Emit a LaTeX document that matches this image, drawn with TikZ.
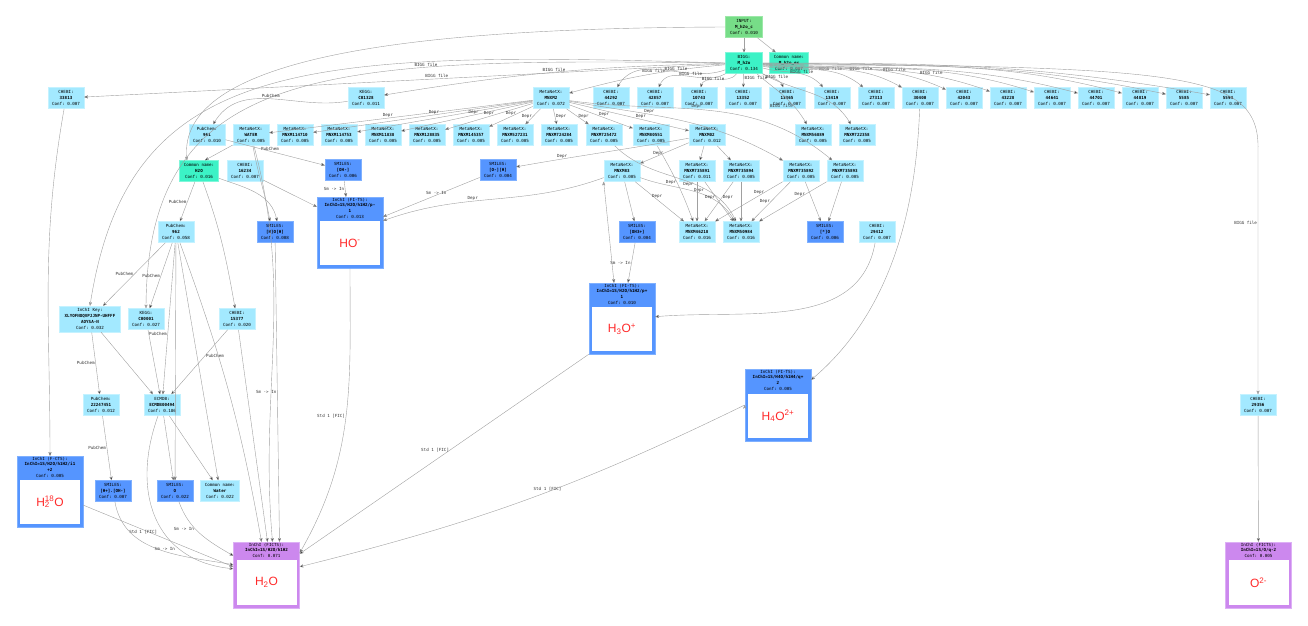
\documentclass[tikz,border=0pt]{standalone}
\usepackage{fontspec}
\setmonofont{DejaVu Sans Mono}
\setsansfont{Liberation Sans}
\usetikzlibrary{arrows,positioning,calc}
\definecolor{idblue}{HTML}{A3E9FF}
\definecolor{idline}{HTML}{C4F2FF}
\definecolor{cnteal}{HTML}{3CF2C6}
\definecolor{cnline}{HTML}{80F7DA}
\definecolor{inpgreen}{HTML}{77DD88}
\definecolor{inpline}{HTML}{9CE8A8}
\definecolor{smblue}{HTML}{5595FF}
\definecolor{smline}{HTML}{7FB0FF}
\definecolor{ficts}{HTML}{CC88EE}
\definecolor{fictsline}{HTML}{DDB0F5}
\definecolor{edgegray}{HTML}{A0A0A0}
\definecolor{molred}{HTML}{FF2A2A}

\begin{document}
\begin{tikzpicture}[x=1pt,y=1pt,
dbid/.style={rectangle,fill=idblue,draw=idline,line width=0.6pt,minimum width=36pt,minimum height=21pt,inner sep=0.5pt,align=center,font=\fontsize{4.2}{5.8}\selectfont\ttfamily},
cn/.style={dbid,fill=cnteal,draw=cnline,minimum width=39pt},
sm/.style={dbid,fill=smblue,draw=smline},
inp/.style={dbid,fill=inpgreen,draw=inpline,minimum width=37pt},
inchi/.style={rectangle,fill=smblue,draw=smline,line width=0.6pt,minimum width=66pt,minimum height=71pt,inner sep=0pt},
hdr/.style={anchor=north,align=center,inner sep=1pt,font=\fontsize{4.2}{5.8}\selectfont\ttfamily},
mol/.style={anchor=south,fill=white,minimum width=60pt,minimum height=44pt,inner sep=0pt,text=molred,font=\fontsize{12}{12}\selectfont\sffamily},
conn/.style={->,>=stealth',draw=edgegray,line width=0.4pt},
lbl/.style={font=\fontsize{4.2}{5}\selectfont\ttfamily,text=black!80,inner sep=0.8pt}]
\useasboundingbox (0,0) rectangle (1308,-625);

% input and BIGG
\node[inp] (input) at (744,-27) {INPUT:\\\textbf{M\_h2o\_c}\\Conf: 0.010};
\node[cn,minimum width=37pt] (bigg) at (744,-63) {BIGG:\\\textbf{M\_h2o}\\Conf: 0.134};
\node[cn] (cnex) at (789,-63) {Common name:\\\textbf{M\_h2o\_ex}\\Conf: 0.007};

% first row of ids
\node[dbid] (ch33813) at (66,-98) {CHEBI:\\\textbf{33813}\\Conf: 0.007};
\node[dbid] (kgC01328) at (366,-98) {KEGG:\\\textbf{C01328}\\Conf: 0.011};
\node[dbid] (mxMNXM2) at (551,-98) {MetaNetX:\\\textbf{MNXM2}\\Conf: 0.072};
\node[dbid] (ch44292) at (611,-98) {CHEBI:\\\textbf{44292}\\Conf: 0.007};
\node[dbid] (ch42857) at (655,-98) {CHEBI:\\\textbf{42857}\\Conf: 0.007};
\node[dbid] (ch10743) at (699,-98) {CHEBI:\\\textbf{10743}\\Conf: 0.007};
\node[dbid] (ch13352) at (743,-98) {CHEBI:\\\textbf{13352}\\Conf: 0.007};
\node[dbid] (ch13365) at (787,-98) {CHEBI:\\\textbf{13365}\\Conf: 0.007};
\node[dbid] (ch13419) at (832,-98) {CHEBI:\\\textbf{13419}\\Conf: 0.007};
\node[dbid] (ch27313) at (876,-98) {CHEBI:\\\textbf{27313}\\Conf: 0.007};
\node[dbid] (ch30400) at (920,-98) {CHEBI:\\\textbf{30400}\\Conf: 0.007};
\node[dbid] (ch42043) at (964,-98) {CHEBI:\\\textbf{42043}\\Conf: 0.007};
\node[dbid] (ch43228) at (1008,-98) {CHEBI:\\\textbf{43228}\\Conf: 0.007};
\node[dbid] (ch44641) at (1052,-98) {CHEBI:\\\textbf{44641}\\Conf: 0.007};
\node[dbid] (ch44701) at (1096,-98) {CHEBI:\\\textbf{44701}\\Conf: 0.007};
\node[dbid] (ch44819) at (1140,-98) {CHEBI:\\\textbf{44819}\\Conf: 0.007};
\node[dbid] (ch5585) at (1184,-98) {CHEBI:\\\textbf{5585}\\Conf: 0.007};
\node[dbid] (ch5594) at (1228,-98) {CHEBI:\\\textbf{5594}\\Conf: 0.007};

% second row
\node[dbid] (pc961) at (207,-135) {PubChem:\\\textbf{961}\\Conf: 0.010};
\node[dbid] (mxWATER) at (251,-135) {MetaNetX:\\\textbf{WATER}\\Conf: 0.005};
\node[dbid] (mx114710) at (295,-135) {MetaNetX:\\\textbf{MNXM114710}\\Conf: 0.005};
\node[dbid] (mx114753) at (339,-135) {MetaNetX:\\\textbf{MNXM114753}\\Conf: 0.005};
\node[dbid] (mx11838) at (383,-135) {MetaNetX:\\\textbf{MNXM11838}\\Conf: 0.005};
\node[dbid] (mx128835) at (427,-135) {MetaNetX:\\\textbf{MNXM128835}\\Conf: 0.005};
\node[dbid] (mx145357) at (471,-135) {MetaNetX:\\\textbf{MNXM145357}\\Conf: 0.005};
\node[dbid] (mx527231) at (515,-135) {MetaNetX:\\\textbf{MNXM527231}\\Conf: 0.005};
\node[dbid] (mx724284) at (559,-135) {MetaNetX:\\\textbf{MNXM724284}\\Conf: 0.005};
\node[dbid] (mx725472) at (604,-135) {MetaNetX:\\\textbf{MNXM725472}\\Conf: 0.005};
\node[dbid] (mx80551) at (651,-135) {MetaNetX:\\\textbf{MNXM80551}\\Conf: 0.005};
\node[dbid] (mxMNXM2b) at (707,-135) {MetaNetX:\\\textbf{MNXM02}\\Conf: 0.012};
\node[dbid] (mx56889) at (813,-135) {MetaNetX:\\\textbf{MNXM56889}\\Conf: 0.005};
\node[dbid] (mx722358) at (857,-135) {MetaNetX:\\\textbf{MNXM722358}\\Conf: 0.005};

% third row
\node[cn] (cnH2O) at (199,-171) {Common name:\\\textbf{H2O}\\Conf: 0.016};
\node[dbid] (ch16234) at (245,-171) {CHEBI:\\\textbf{16234}\\Conf: 0.007};
\node[sm] (smOHm) at (343,-170) {SMILES:\\\textbf{[OH-]}\\Conf: 0.006};
\node[sm] (smOmH) at (498,-170) {SMILES:\\\textbf{[O-][H]}\\Conf: 0.004};
\node[dbid] (mx83) at (622,-171) {MetaNetX:\\\textbf{MNXM83}\\Conf: 0.005};
\node[dbid] (mx735891) at (697,-171) {MetaNetX:\\\textbf{MNXM735891}\\Conf: 0.011};
\node[dbid] (mx735894) at (741,-171) {MetaNetX:\\\textbf{MNXM735894}\\Conf: 0.005};
\node[dbid] (mx735892) at (801,-171) {MetaNetX:\\\textbf{MNXM735892}\\Conf: 0.005};
\node[dbid] (mx735893) at (845,-171) {MetaNetX:\\\textbf{MNXM735893}\\Conf: 0.005};

% fourth row
\node[dbid] (pc962) at (176,-232) {PubChem:\\\textbf{962}\\Conf: 0.058};
\node[sm] (smHOH) at (275,-232) {SMILES:\\\textbf{[H]O[H]}\\Conf: 0.008};
\node[sm] (smOH3) at (637,-232) {SMILES:\\\textbf{[OH3+]}\\Conf: 0.004};
\node[dbid] (mx46218) at (697,-232) {MetaNetX:\\\textbf{MNXM46218}\\Conf: 0.016};
\node[dbid] (mx50984) at (741,-232) {MetaNetX:\\\textbf{MNXM50984}\\Conf: 0.016};
\node[sm] (smStarO) at (825,-232) {SMILES:\\\textbf{[*]O}\\Conf: 0.006};
\node[dbid] (ch29412) at (877,-232) {CHEBI:\\\textbf{29412}\\Conf: 0.007};

% lower ids
\node[dbid,minimum width=61pt,minimum height=26pt] (ikey) at (90,-319) {InChI Key:\\\textbf{XLYOFNOQVPJJNP-UHFFF}\\\textbf{AOYSA-N}\\Conf: 0.032};
\node[dbid] (kgC00001) at (146,-319) {KEGG:\\\textbf{C00001}\\Conf: 0.027};
\node[dbid] (ch15377) at (237,-319) {CHEBI:\\\textbf{15377}\\Conf: 0.020};
\node[dbid] (pc22247451) at (101,-405) {PubChem:\\\textbf{22247451}\\Conf: 0.012};
\node[dbid] (ecmdb) at (162,-405) {ECMDB:\\\textbf{ECMDB00494}\\Conf: 0.186};
\node[dbid] (ch29356) at (1258,-405) {CHEBI:\\\textbf{29356}\\Conf: 0.007};
\node[sm] (smHpOHm) at (113,-491) {SMILES:\\\textbf{[H+].[OH-]}\\Conf: 0.007};
\node[sm] (smO) at (175,-491) {SMILES:\\\textbf{O}\\Conf: 0.022};
\node[dbid,minimum width=39pt] (cnWater) at (220,-491) {Common name:\\\textbf{Water}\\Conf: 0.022};

% InChI boxes with structures
\node[inchi] (inHOm) at (350,-232.5) {};
\node[hdr] at (inHOm.north) {InChI (FI-TS):\\\textbf{InChI=1S/H2O/h1H2/p-}\\\textbf{1}\\Conf: 0.013};
\node[mol] (molHOm) at ([yshift=3pt]inHOm.south) {HO\textsuperscript{-}};
\node[inchi] (inH3O) at (622,-318.5) {};
\node[hdr] at (inH3O.north) {InChI (FI-TS):\\\textbf{InChI=1S/H2O/h1H2/p+}\\\textbf{1}\\Conf: 0.010};
\node[mol] (molH3O) at ([yshift=3pt]inH3O.south) {H\textsubscript{3}O\textsuperscript{+}};
\node[inchi,minimum height=72pt] (inH4O) at (778,-405) {};
\node[hdr] at (inH4O.north) {InChI (FI-TS):\\\textbf{InChI=1S/H4O/h1H4/q+}\\\textbf{2}\\Conf: 0.005};
\node[mol] (molH4O) at ([yshift=3pt]inH4O.south) {H\textsubscript{4}O\textsuperscript{2+}};
\node[inchi] (inH218O) at (50,-491.5) {};
\node[hdr] at (inH218O.north) {InChI (F-CTS):\\\textbf{InChI=1S/H2O/h1H2/i1}\\\textbf{+2}\\Conf: 0.005};
\node[mol] (molH218O) at ([yshift=3pt]inH218O.south) {H\rlap{\textsubscript{2}}\textsuperscript{18}O};
\node[inchi,fill=ficts,draw=fictsline,minimum height=66pt] (inH2O) at (266.5,-575) {};
\node[hdr] at (inH2O.north) {InChI (FICTS):\\\textbf{InChI=1S/H2O/h1H2}\\Conf: 0.071};
\node[mol,minimum height=45pt] (molH2O) at ([yshift=3pt]inH2O.south) {H\textsubscript{2}O};
\node[inchi,fill=ficts,draw=fictsline,minimum height=66pt] (inO2m) at (1258.5,-575) {};
\node[hdr] at (inO2m.north) {InChI (FICTS):\\\textbf{InChI=1S/O/q-2}\\Conf: 0.005};
\node[mol,minimum height=45pt] (molO2m) at ([yshift=3pt]inO2m.south) {O\textsuperscript{2-}};

% input
\path[conn]
(input) edge (bigg) edge (cnex)
;
\draw[conn] (input.west) .. controls (420,-28) and (175,-55) .. ([xshift=-12pt]cnH2O.north);

% BIGG file
\path[conn]
(bigg) edge node[lbl,pos=.45,above]{BIGG file} (ch33813)
(bigg) edge[bend right=4] node[lbl,pos=.5,above]{BIGG file} (kgC01328)
(bigg) edge[bend right=5] node[lbl,pos=.45,above]{BIGG file} (mxMNXM2)
(bigg) edge[out=200,in=60] node[lbl,pos=.4,above]{BIGG file} (ch44292)
(bigg) edge[out=210,in=70] node[lbl,pos=.45,above]{BIGG file} (ch42857)
(bigg) edge[out=235,in=80] node[lbl,pos=.3,left]{BIGG file} (ch10743)
(bigg) edge node[lbl,pos=.3,right]{BIGG file} (ch13352)
(bigg) edge[out=-30,in=110] node[lbl,pos=.6,above]{BIGG file} (ch13365)
(bigg) edge[out=-15,in=130] node[lbl,pos=.6,above]{BIGG file} (ch13419)
(bigg) edge[out=-10,in=140] node[lbl,pos=.65,above]{BIGG file} (ch27313)
(bigg) edge[out=-8,in=150] node[lbl,pos=.7,above]{BIGG file} (ch30400)
(bigg) edge[out=-6,in=155] node[lbl,pos=.72,above]{BIGG file} (ch42043)
(bigg) edge[out=-5,in=160] node[lbl,pos=.75,above]{BIGG file} (ch43228)
(bigg) edge[out=-4,in=162] (ch44641)
(bigg) edge[out=-3,in=165] (ch44701)
(bigg) edge[out=-2,in=165] (ch44819)
(bigg) edge[out=-1,in=168] (ch5585)
(bigg) edge[out=0,in=170] (ch5594)
(bigg) edge[out=-40,in=120] node[lbl,pos=.7,left]{BIGG file} (mx56889)
(bigg) edge[out=-30,in=120] (mx722358)
;
\draw[conn] (bigg.east) .. controls (1180,-68) and (1260,-70) .. (1258,-150) -- node[lbl,pos=.3,left]{BIGG file} (ch29356);
\draw[conn] (bigg.west) .. controls (300,-50) and (128,-58) .. (ikey.north);
\draw[conn] (bigg.west) .. controls (330,-58) and (147,-62) .. node[lbl,pos=.3,above]{BIGG file} (kgC00001.north);

% deprecated MetaNetX ids
\path[conn]
(mxMNXM2) edge node[lbl,pos=.55,above]{Depr} (mxWATER)
(mxMNXM2) edge node[lbl,pos=.45,above]{Depr} (mx114710)
(mxMNXM2) edge (mx114753)
(mxMNXM2) edge node[lbl,pos=.45,above]{Depr} (mx11838)
(mxMNXM2) edge node[lbl,pos=.5,above]{Depr} (mx128835)
(mxMNXM2) edge node[lbl,pos=.5,above]{Depr} (mx145357)
(mxMNXM2) edge node[lbl,pos=.5,left]{Depr} (mx527231)
(mxMNXM2) edge node[lbl,pos=.5,right]{Depr} (mx724284)
(mxMNXM2) edge node[lbl,pos=.5,right]{Depr} (mx725472)
(mxMNXM2) edge node[lbl,pos=.55,above]{Depr} (mx80551)
(mxMNXM2) edge node[lbl,pos=.6,above]{Depr} (mxMNXM2b)
(mxMNXM2) edge[out=-10,in=150] node[lbl,pos=.35,above]{Depr} (mx735892)
(mxMNXM2) edge[out=-8,in=140] node[lbl,pos=.45,above]{Depr} (mx735893)
(mxMNXM2b) edge node[lbl,pos=.5,left]{Depr} (mx83)
(mxMNXM2b) edge (mx735891)
(mxMNXM2b) edge (mx735894)
(mxMNXM2b) edge[out=190,in=10] node[lbl,pos=.75,above]{Depr} (smOmH)
(mx83) edge node[lbl,pos=.45,above]{Depr} (mx46218)
(mx83) edge[out=-20,in=120] node[lbl,pos=.55,above]{Depr} (mx50984)
(mx735891) edge (mx46218)
(mx735891) edge node[lbl,pos=.4,left]{Depr} (mx50984)
(mx735894) edge node[lbl,pos=.4,right]{Depr} (mx46218)
(mx735894) edge (mx50984)
(mx735892) edge node[lbl,pos=.35,above]{Depr} (mx46218)
(mx735892) edge node[lbl,pos=.5,left]{Depr} (mx50984)
(mx735893) edge node[lbl,pos=.4,above]{Depr} (mx50984)
(mx80551) edge[out=-60,in=110] node[lbl,pos=.5,left]{Depr} (mx46218)
(mx725472) edge[out=-45,in=115] node[lbl,pos=.6,left]{Depr} (mx50984)
(mx735892) edge (smStarO)
(mx735893) edge (smStarO)
(mx83) edge (smOH3)
(mx83.south west) edge ([xshift=-8pt]inH3O.north)
(smOH3) edge node[lbl,pos=.5,left]{Sm -> In} ([xshift=6pt]inH3O.north)
(ch29412) edge[out=-100,in=5] ([yshift=-34pt]inH3O.north east)
(ch30400) edge[out=-92,in=40,looseness=0.9] ([yshift=-11pt]inH4O.north east)
(ch29356) edge (inO2m)
;

% hydroxide
\path[conn]
(kgC01328) edge[out=190,in=60] node[lbl,pos=.5,above]{PubChem} (pc961)
(pc961) edge node[lbl,pos=.45,above]{PubChem} (smOHm)
(ch16234) edge ([yshift=-10pt]inHOm.north west)
(smOHm) edge node[lbl,pos=.5,left]{Sm -> In} (inHOm)
(smOmH) edge node[lbl,pos=.45,above]{Sm -> In} ([yshift=-20pt]inHOm.north east)
(mx83) edge[out=200,in=20] node[lbl,pos=.6,above]{Depr} ([yshift=-24pt]inHOm.north east)
;

% water
\path[conn]
(mxWATER) edge ([xshift=6pt]cnH2O.north)
(mxWATER) edge[out=-80,in=100] ([xshift=-5pt]smHOH.north)
(cnH2O) edge[out=-20,in=100] ([xshift=2pt]smHOH.north)
(cnH2O) edge node[lbl,pos=.5,left]{PubChem} (pc962)
(cnH2O) edge[out=-70,in=100] (ch15377)
(pc962) edge node[lbl,pos=.5,left]{PubChem} (ikey)
(pc962) edge node[lbl,pos=.5,left]{PubChem} (kgC00001)
(pc962) edge node[lbl,pos=.6,left]{PubChem} (ecmdb)
(pc962) edge (smO)
(pc962) edge (cnWater)
(pc962) edge[out=-70,in=100] ([xshift=-5pt]inH2O.north)
(ikey) edge node[lbl,pos=.5,left]{PubChem} (pc22247451)
(ikey) edge (ecmdb)
(kgC00001) edge (ecmdb)
(ch15377) edge node[lbl,pos=.4,right]{PubChem} (ecmdb)
(ch15377) edge ([xshift=1pt]inH2O.north)
(mxWATER) edge[out=-75,in=95] ([xshift=6pt]inH2O.north)
(smHOH) edge node[lbl,pos=.5,left]{Sm -> In} ([xshift=13pt]inH2O.north)
(pc22247451) edge node[lbl,pos=.5,left]{PubChem} (smHpOHm)
(ecmdb) edge (smO)
(ecmdb) edge (cnWater)
(ecmdb) edge[out=-110,in=175,looseness=1.2] ([yshift=-27pt]inH2O.north west)
(ch33813) edge[out=-100,in=90] (inH218O)
(inH218O) edge node[lbl,pos=.4,below]{Std 1 [FIC]} ([yshift=-25pt]inH2O.north west)
(smHpOHm) edge[out=-80,in=170] node[lbl,pos=.55,above]{Sm -> In} ([yshift=-23pt]inH2O.north west)
(smO) edge[out=-70,in=150] node[lbl,pos=.4,left]{Sm -> In} ([yshift=-14pt]inH2O.north west)
(inHOm) edge[out=-90,in=60] node[lbl,pos=.5,left]{Std 1 [FIC]} ([yshift=-11pt]inH2O.north east)
(inH3O.south west) edge node[lbl,pos=.48,left]{Std 1 [FIC]} ([yshift=-12pt]inH2O.north east)
(inH4O.west) edge[bend left=6] node[lbl,pos=.45,above]{Std 1 [FIC]} ([yshift=-25pt]inH2O.north east)
;
\end{tikzpicture}
\end{document}
